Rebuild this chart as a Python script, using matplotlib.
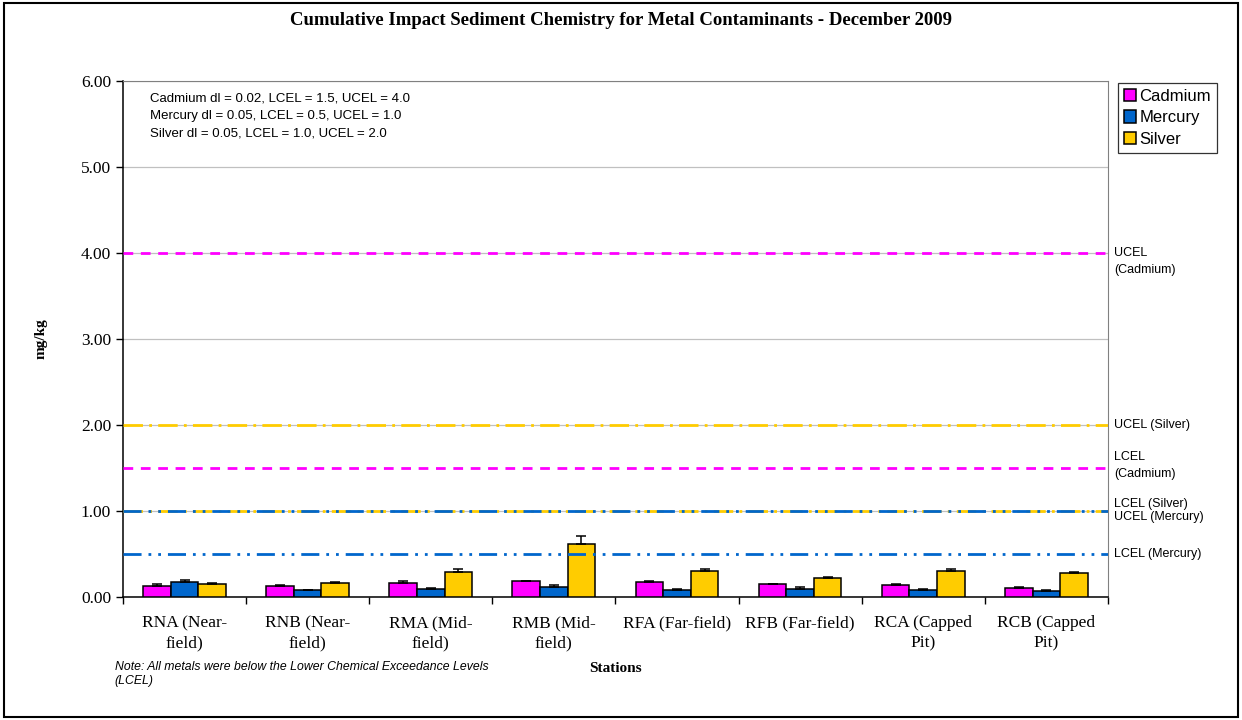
import numpy as np
import matplotlib.pyplot as plt
from matplotlib.patches import Rectangle

plt.rcParams["lines.scale_dashes"] = False

stations = ["RNA (Near-\nfield)", "RNB (Near-\nfield)", "RMA (Mid-\nfield)",
            "RMB (Mid-\nfield)", "RFA (Far-field)", "RFB (Far-field)",
            "RCA (Capped\nPit)", "RCB (Capped\nPit)"]
metals = ["Cadmium", "Mercury", "Silver"]
colors = ["#FF00FF", "#0066CC", "#FFCC00"]

cadmium = [0.13, 0.13, 0.165, 0.18, 0.17, 0.145, 0.14, 0.10]
mercury = [0.175, 0.075, 0.09, 0.115, 0.075, 0.095, 0.08, 0.065]
silver = [0.15, 0.16, 0.285, 0.61, 0.30, 0.215, 0.30, 0.28]
cadmium_err = [0.015, 0.01, 0.02, 0.01, 0.01, 0.01, 0.015, 0.01]
mercury_err = [0.02, 0.005, 0.015, 0.02, 0.015, 0.015, 0.01, 0.01]
silver_err = [0.015, 0.015, 0.035, 0.095, 0.02, 0.015, 0.02, 0.01]

# exceedance levels: (value, colour, dash pattern)
limits = [
    (4.0, "#FF00FF", (0, (7, 5.5))),
    (1.5, "#FF00FF", (0, (7, 5.5))),
    (2.0, "#FFCC00", (0, (14, 4.5, 2, 4.5))),
    (1.0, "#FFCC00", (0, (14, 4.5, 2, 4.5))),
    (1.0, "#0066CC", (0, (13, 5, 2, 5, 2, 5))),
    (0.5, "#0066CC", (0, (13, 5, 2, 5, 2, 5))),
]
side_labels = [
    (3.9, "UCEL\n(Cadmium)", 1.6),
    (2.0, "UCEL (Silver)", 1.2),
    (1.53, "LCEL\n(Cadmium)", 1.55),
    (1.0, "LCEL (Silver)\nUCEL (Mercury)", 1.1),
    (0.5, "LCEL (Mercury)", 1.2),
]

serif = "Liberation Serif"
sans = "Liberation Sans"

fig = plt.figure(figsize=(12.42, 7.2), dpi=100)
ax = fig.add_axes([0.099, 0.171, 0.793, 0.7165])

x = np.arange(len(stations))
w = 0.224
series = [cadmium, mercury, silver]
errs = [cadmium_err, mercury_err, silver_err]
for i, (vals, err, c, name) in enumerate(zip(series, errs, colors, metals)):
    pos = x + (i - 1) * w
    ax.bar(pos, vals, w, color=c, edgecolor="black", linewidth=1.1,
           label=name, zorder=3)
    ax.errorbar(pos, vals, yerr=[np.zeros(len(err)), err], fmt="none",
                ecolor="black", elinewidth=1.1, capsize=3.5, capthick=1.1,
                zorder=4)

for val, c, ls in limits:
    ax.axhline(val, color=c, linestyle=ls, linewidth=2, zorder=5)

for y, txt, sp in side_labels:
    ax.text(1.006, y, txt, transform=ax.get_yaxis_transform(),
            fontfamily=sans, fontsize=9, va="center", ha="left",
            linespacing=sp)

ax.set_xlim(-0.5, len(stations) - 0.5)
ax.set_ylim(0, 6)
ax.set_yticks(np.arange(0, 6.01, 1))
ax.yaxis.set_major_formatter(plt.FormatStrFormatter("%.2f"))
ax.yaxis.grid(True, color="#C0C0C0", linewidth=0.9, zorder=0)
ax.set_xticks(x)
ax.set_xticklabels(stations, fontfamily=serif, fontsize=12.5, linespacing=1.35)
ax.set_xticks(np.arange(-0.5, len(stations)), minor=True)
ax.tick_params(axis="x", which="major", length=0, pad=13)
ax.tick_params(axis="x", which="minor", length=5, width=1, direction="out")
ax.tick_params(axis="y", length=5, width=1, direction="out", labelsize=12.5)
for lab in ax.get_yticklabels():
    lab.set_fontfamily(serif)

for side in ["top", "right"]:
    ax.spines[side].set_color("#808080")
for side in ["left", "bottom"]:
    ax.spines[side].set_color("black")
    ax.spines[side].set_linewidth(1.1)

ax.set_ylabel("mg/kg", fontfamily=serif, fontweight="bold", fontsize=11,
              labelpad=24)
ax.set_xlabel("Stations", fontfamily=serif, fontweight="bold", fontsize=11,
              labelpad=8)

fig.text(0.5, 0.971, "Cumulative Impact Sediment Chemistry for Metal Contaminants - December 2009",
         ha="center", va="center", fontfamily=serif, fontweight="bold", fontsize=13.5)

ax.text(0.027, 0.978,
        "Cadmium dl = 0.02, LCEL = 1.5, UCEL = 4.0\n"
        "Mercury dl = 0.05, LCEL = 0.5, UCEL = 1.0\n"
        "Silver dl = 0.05, LCEL = 1.0, UCEL = 2.0",
        transform=ax.transAxes, fontfamily=sans, fontsize=9.5,
        va="top", ha="left", linespacing=1.6)

fig.text(0.0925, 0.064,
         "Note: All metals were below the Lower Chemical Exceedance Levels\n(LCEL)",
         fontfamily=sans, fontstyle="italic", fontsize=8.8, va="center",
         ha="left", linespacing=1.3)

leg = fig.legend(loc="upper left", bbox_to_anchor=(0.9, 0.885),
                 prop={"family": sans, "size": 12}, frameon=True,
                 fancybox=False, edgecolor="black", handlelength=0.75,
                 handleheight=0.75, handletextpad=0.2, borderpad=0.35,
                 labelspacing=0.4, borderaxespad=0)
leg.get_frame().set_linewidth(0.9)

fig.patches.append(Rectangle((0.003, 0.004), 0.994, 0.992,
                             transform=fig.transFigure, fill=False,
                             edgecolor="black", linewidth=1.5))

fig.savefig("out.png", dpi=100)
